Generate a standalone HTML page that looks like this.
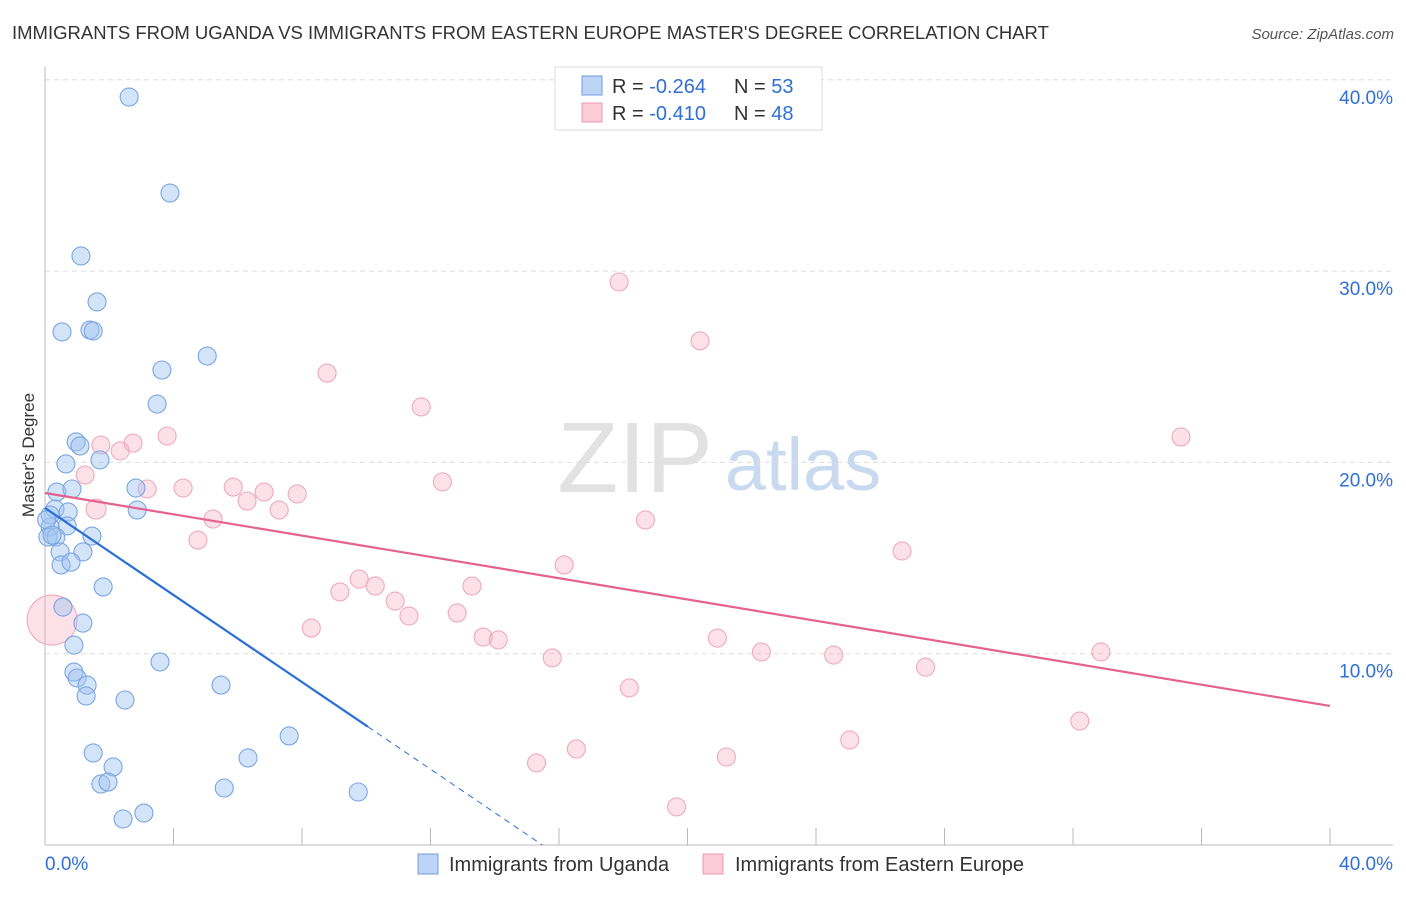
<!DOCTYPE html>
<html><head><meta charset="utf-8"><style>
body{margin:0;background:#fff;font-family:"Liberation Sans",sans-serif;}
svg text{font-family:"Liberation Sans",sans-serif;}
</style></head><body>
<svg width="1406" height="892" xmlns="http://www.w3.org/2000/svg">
<text x="12" y="39" font-size="18.5" fill="#333">IMMIGRANTS FROM UGANDA VS IMMIGRANTS FROM EASTERN EUROPE MASTER'S DEGREE CORRELATION CHART</text>
<text x="1394" y="39" font-size="15" fill="#555" font-style="italic" text-anchor="end">Source: ZipAtlas.com</text>
<g>
<text x="635" y="492" font-size="100" fill="#e2e2e2" text-anchor="middle" font-family="Liberation Serif">ZIP</text>
<text x="803" y="490" font-size="74" fill="#c9daf0" text-anchor="middle">atlas</text>
</g>
<g id="grid"></g>
<g id="axes"></g>
<g id="pts"></g>
<g id="lines"></g>
<text x="34" y="455" font-size="17" fill="#333" text-anchor="middle" transform="rotate(-90 34 455)">Master's Degree</text>
<g>
<rect x="555" y="67" width="267" height="63" fill="#fff" stroke="#ddd"/>
<rect x="582" y="76" width="20" height="19" fill="#bcd4f5" stroke="#6f9de0"/>
<rect x="582" y="103" width="20" height="19" fill="#fbccd8" stroke="#ec9ab2"/>
<text x="612" y="93" font-size="20" fill="#333">R = <tspan fill="#2f6fd6">-0.264</tspan></text>
<text x="734" y="93" font-size="20" fill="#333">N = <tspan fill="#2f6fd6">53</tspan></text>
<text x="612" y="120" font-size="20" fill="#333">R = <tspan fill="#2f6fd6">-0.410</tspan></text>
<text x="734" y="120" font-size="20" fill="#333">N = <tspan fill="#2f6fd6">48</tspan></text>
</g>
<g>
<rect x="418" y="854" width="20" height="20" fill="#bcd4f5" stroke="#6f9de0"/>
<text x="449" y="871" font-size="20" fill="#333">Immigrants from Uganda</text>
<rect x="703" y="854" width="20" height="20" fill="#fbccd8" stroke="#ec9ab2"/>
<text x="735" y="871" font-size="20" fill="#333">Immigrants from Eastern Europe</text>
</g>
</svg>
<script>
const yTicks=[10,20,30,40];
const xTickLabels=["0.0%","40.0%"];
const ugX=[2.62,3.89,1.12,1.62,0.53,1.40,1.50,5.05,3.64,3.49,0.97,1.09,1.71,0.65,2.83,0.37,0.84,2.87,0.31,0.72,0.69,1.46,0.16,0.09,0.34,0.47,1.18,0.50,0.81,1.81,0.56,1.18,0.90,3.58,0.90,1.00,1.31,1.28,5.48,2.49,1.50,7.60,6.32,2.12,5.58,1.74,1.96,9.75,3.08,2.43,0.16,0.05,0.22];
const ugY=[39.1,34.08,30.79,28.39,26.82,26.92,26.87,25.56,24.83,23.05,21.07,20.86,20.13,19.92,18.66,18.45,18.61,17.51,17.56,17.41,16.68,16.15,16.62,16.10,16.10,15.32,15.32,14.64,14.79,13.49,12.44,11.60,10.45,9.57,9.04,8.73,8.36,7.79,8.36,7.58,4.81,5.70,4.55,4.08,2.98,3.19,3.29,2.77,1.67,1.36,17.25,17.0,16.2];
const eeX=[17.87,20.39,8.78,11.71,35.36,3.80,1.74,2.74,2.34,1.25,12.37,3.18,4.30,5.86,6.82,7.85,6.29,7.29,1.59,5.23,18.69,4.76,26.68,16.16,9.78,10.28,13.29,9.18,10.90,11.33,12.83,8.29,13.64,14.11,20.93,22.30,24.55,32.87,15.79,27.41,18.19,32.21,25.05,16.54,21.21,15.30,19.66,0.22];
const eeY=[29.43,26.35,24.67,22.90,21.33,21.38,20.91,21.01,20.60,19.34,18.98,18.61,18.66,18.71,18.45,18.35,17.98,17.51,17.56,17.04,16.99,15.94,15.37,14.64,13.90,13.54,13.54,13.23,12.75,11.97,12.13,11.34,10.87,10.72,10.82,10.09,9.93,10.09,9.78,9.30,8.21,6.48,5.49,5.02,4.60,4.29,1.99,11.76];
const ugTrend=[17.62,-1.138];
const eeTrend=[18.40,-0.2783];
const NS="http://www.w3.org/2000/svg";
const sx=v=>45+v*32.125, sy=v=>845-v*19.13;
function mk(tag,attrs,parent){const e=document.createElementNS(NS,tag);for(const k in attrs)e.setAttribute(k,attrs[k]);parent.appendChild(e);return e;}
const grid=document.getElementById('grid'),axes=document.getElementById('axes'),pts=document.getElementById('pts'),lines=document.getElementById('lines');
yTicks.forEach(t=>{
 const l=mk('line',{x1:45,x2:1393,y1:sy(t),y2:sy(t),stroke:'#ddd','stroke-dasharray':'5,4'},grid);
 
 
 const tx=mk('text',{x:1393,y:sy(t)+24,'font-size':19,fill:'#2f6fd6','text-anchor':'end'},axes);
 tx.textContent=t.toFixed(1)+'%';
 
 
});
const ax=mk('line',{x1:45,x2:1393,y1:845,y2:845,stroke:'#bbb'},axes);


const ay=mk('line',{x1:45,x2:45,y1:67,y2:845,stroke:'#bbb'},axes);


for(let i=0;i<=10;i++){const v=i*4;const t=mk('line',{x1:sx(v),x2:sx(v),y1:828,y2:845,stroke:'#bbb'},axes);
 
 }
const xl0=mk('text',{x:45,y:870,'font-size':19,fill:'#2f6fd6'},axes);xl0.textContent=xTickLabels[0];


const xl1=mk('text',{x:1393,y:870,'font-size':19,fill:'#2f6fd6','text-anchor':'end'},axes);xl1.textContent=xTickLabels[1];


eeX.forEach((x,i)=>{const c=mk('circle',{cx:sx(x),cy:sy(eeY[i]),r:i==eeX.length-1?25:(i==18?10:9),fill:'rgba(245,170,192,0.35)',stroke:'#eeaabd','stroke-width':1.1},pts);
 
 });
ugX.forEach((x,i)=>{const c=mk('circle',{cx:sx(x),cy:sy(ugY[i]),r:9,fill:'rgba(160,195,240,0.45)',stroke:'#7ba5e2','stroke-width':1.1},pts);
 
 });
const pe=mk('line',{x1:sx(0),y1:sy(eeTrend[0]),x2:sx(40),y2:sy(eeTrend[0]+eeTrend[1]*40),stroke:'#e5628e','stroke-width':2.2},lines);


const xs=10.05,xz=-ugTrend[0]/ugTrend[1];
const pu=mk('line',{x1:sx(0),y1:sy(ugTrend[0]),x2:sx(xs),y2:sy(ugTrend[0]+ugTrend[1]*xs),stroke:'#2a6fd6','stroke-width':2.2},lines);


const pd=mk('line',{x1:sx(xs),y1:sy(ugTrend[0]+ugTrend[1]*xs),x2:sx(xz),y2:sy(0),stroke:'#2a6fd6','stroke-width':1,'stroke-dasharray':'6,5'},lines);


</script>
</body></html>
